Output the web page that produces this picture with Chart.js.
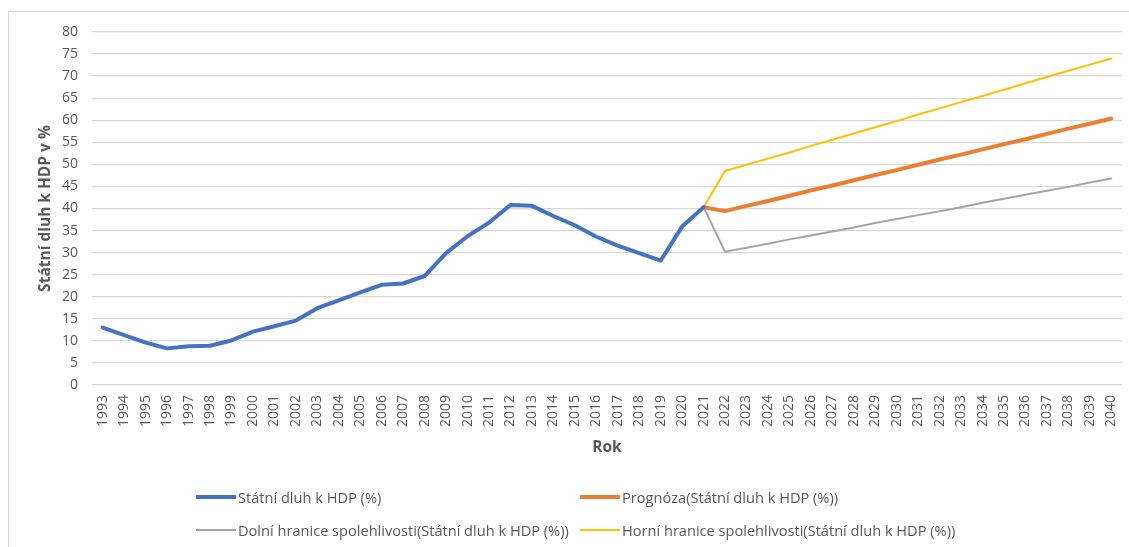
<!DOCTYPE html>
<html lang="cs">
<head>
<meta charset="utf-8">
<title>Státní dluh k HDP</title>
<script src="https://cdn.jsdelivr.net/npm/chart.js@4/dist/chart.umd.min.js"></script>
<style>
  html, body { margin: 0; padding: 0; background: #fff; }
  body { width: 1129px; height: 547px; position: relative; overflow: hidden; font-family: "Open Sans", sans-serif; }
  #frame { position: absolute; left: 8px; top: 11px; width: 1200px; height: 600px;
           border-left: 1px solid #d9d9d9; border-top: 1px solid #d9d9d9; box-sizing: border-box; }
  #wrap { position: absolute; left: 0; top: 0; width: 1129px; height: 547px; }
  #legend { position: absolute; left: 0; top: 0; width: 1129px; height: 547px; pointer-events: none; }
  .item { position: absolute; display: flex; align-items: center; height: 20px; color: #595959; font-size: 14.6px; white-space: nowrap; }
  .swatch { width: 40px; margin-right: 2px; }
</style>
</head>
<body>
<div id="frame"></div>
<div id="wrap"><canvas id="c" width="1129" height="547"></canvas></div>
<div id="legend"></div>
<script>
// Years on the category axis
const years = [];
for (let y = 1993; y <= 2040; y++) years.push(String(y));

// Historical debt ratio, 1993–2021 (% of GDP)
const historical = [
  13.0, 11.3, 9.6, 8.3, 8.8, 8.9, 10.1, 12.1, 13.3, 14.6,
  17.4, 19.2, 21.0, 22.7, 23.0, 24.7, 29.9, 33.7, 36.8, 40.8,
  40.6, 38.3, 36.2, 33.6, 31.6, 29.9, 28.2, 35.9, 40.3
];

// Forecast, 2021–2040
const forecast = [
  40.3, 39.4, 40.6, 41.7, 42.9, 44.1, 45.2, 46.4, 47.6, 48.7,
  49.9, 51.1, 52.2, 53.4, 54.6, 55.7, 56.9, 58.1, 59.2, 60.4
];

// Lower confidence bound, 2021–2040
const lowerBound = [
  40.3, 30.2, 31.1, 32.0, 33.0, 33.9, 34.8, 35.7, 36.7, 37.6,
  38.5, 39.4, 40.3, 41.3, 42.2, 43.1, 44.0, 44.9, 45.9, 46.8
];

// Upper confidence bound, 2021–2040
const upperBound = [
  40.3, 48.5, 49.9, 51.3, 52.7, 54.2, 55.6, 57.0, 58.4, 59.8,
  61.3, 62.7, 64.1, 65.5, 66.9, 68.4, 69.8, 71.2, 72.6, 74.0
];

// Series labels
const seriesNames = [
  'Státní dluh k HDP (%)',
  'Prognóza(Státní dluh k HDP (%))',
  'Dolní hranice spolehlivosti(Státní dluh k HDP (%))',
  'Horní hranice spolehlivosti(Státní dluh k HDP (%))'
];

// Align series onto the full year axis
const nYears = years.length;
const histFull = historical.concat(new Array(nYears - historical.length).fill(null));
const pad = n => new Array(n).fill(null);
const fcStart = nYears - forecast.length;
const fcFull = pad(fcStart).concat(forecast);
const loFull = pad(fcStart).concat(lowerBound);
const hiFull = pad(fcStart).concat(upperBound);

const textColor = '#595959';
const gridColor = '#d9d9d9';

const chart = new Chart(document.getElementById('c'), {
  type: 'line',
  data: {
    labels: years,
    datasets: [
      { label: seriesNames[0], data: histFull, borderColor: '#4472C4', borderWidth: 4, legendCol: 0, legendRow: 0 },
      { label: seriesNames[1], data: fcFull, borderColor: '#ED7D31', borderWidth: 4, legendCol: 1, legendRow: 0 },
      { label: seriesNames[2], data: loFull, borderColor: '#A5A5A5', borderWidth: 2, legendCol: 0, legendRow: 1 },
      { label: seriesNames[3], data: hiFull, borderColor: '#FFC000', borderWidth: 2, legendCol: 1, legendRow: 1 }
    ]
  },
  options: {
    responsive: false,
    animation: false,
    layout: { padding: { left: 36, right: 7, top: 32, bottom: 90 } },
    elements: {
      point: { radius: 0, hoverRadius: 0 },
      line: { tension: 0, borderCapStyle: 'round', borderJoinStyle: 'round', fill: false }
    },
    plugins: {
      legend: { display: false },
      tooltip: { enabled: false }
    },
    scales: {
      x: {
        offset: true,
        grid: { display: false, drawTicks: false },
        border: { display: false },
        ticks: {
          color: textColor,
          font: { family: 'Open Sans', size: 14 },
          minRotation: 90, maxRotation: 90,
          autoSkip: false,
          padding: 10
        },
        title: {
          display: true,
          text: 'Rok',
          color: textColor,
          font: { family: 'Open Sans', size: 15.5, weight: 'bold' },
          padding: 0
        },
        afterFit: s => { s.height = 72; s.paddingLeft = 0; s.paddingRight = 0; }
      },
      y: {
        min: 0, max: 80,
        grid: { color: gridColor, lineWidth: 1.3, drawTicks: false },
        border: { display: false },
        ticks: {
          stepSize: 5,
          color: textColor,
          font: { family: 'Open Sans', size: 14 },
          padding: 14
        },
        title: {
          display: true,
          text: 'Státní dluh k HDP v %',
          color: textColor,
          font: { family: 'Open Sans', size: 15.5, weight: 'bold' },
          padding: 0
        },
        afterFit: s => { s.width = 56; }
      }
    }
  }
});

// Two-column legend beneath the plot, built from the chart's datasets
const legendEl = document.getElementById('legend');
const colX = [196, 580];
const rowY = [487, 520];
chart.data.datasets.forEach(ds => {
  const item = document.createElement('div');
  item.className = 'item';
  item.style.left = colX[ds.legendCol] + 'px';
  item.style.top = rowY[ds.legendRow] + 'px';
  const sw = document.createElement('span');
  sw.className = 'swatch';
  sw.style.height = ds.borderWidth + 'px';
  sw.style.background = ds.borderColor;
  const tx = document.createElement('span');
  tx.textContent = ds.label;
  item.appendChild(sw);
  item.appendChild(tx);
  legendEl.appendChild(item);
});
</script>
</body>
</html>
